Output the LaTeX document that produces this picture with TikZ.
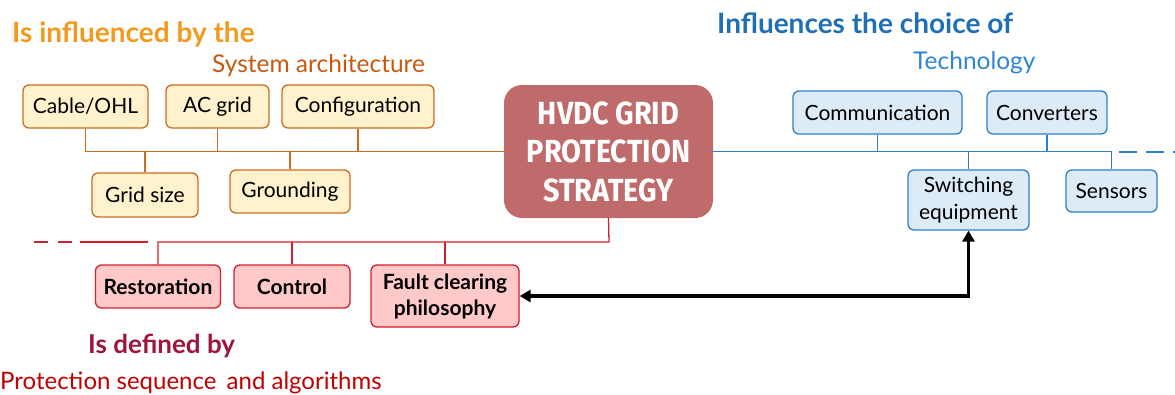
\documentclass[tikz,border=0pt]{standalone}
\usepackage{fontspec}
\setmainfont{Lato}
\newfontfamily\condfont[FakeStretch=0.90]{Fira Sans}
\usetikzlibrary{arrows.meta}
\definecolor{otitle}{HTML}{F39A1E}
\definecolor{osub}{HTML}{C55A11}
\definecolor{oline}{HTML}{CC6B22}
\definecolor{ofill}{HTML}{FFF2CC}
\definecolor{hvfill}{HTML}{C06B6B}
\definecolor{btitle}{HTML}{1E6FB5}
\definecolor{bsub}{HTML}{2E86D4}
\definecolor{bline}{HTML}{2E80CC}
\definecolor{bfill}{HTML}{DDEBF7}
\definecolor{rline}{HTML}{D0202A}
\definecolor{rfill}{HTML}{FFC9C9}
\definecolor{rtitle}{HTML}{A0143C}
\definecolor{rsub}{HTML}{C00000}
\tikzset{
  obox/.style={draw=oline, fill=ofill, line width=1.3pt, rounded corners=6pt, inner sep=0pt, align=center, font=\fontsize{21}{26}\selectfont},
  bbox/.style={draw=bline, fill=bfill, line width=1.3pt, rounded corners=6pt, inner sep=0pt, align=center, font=\fontsize{21}{26.5}\selectfont},
  rbox/.style={draw=rline, fill=rfill, line width=1.3pt, rounded corners=6pt, inner sep=0pt, align=center, font=\bfseries\fontsize{21}{26}\selectfont},
  oconn/.style={draw=oline, line width=1.3pt},
  bconn/.style={draw=bline, line width=1.3pt},
  rconn/.style={draw=rline, line width=1.3pt},
  ttl/.style={inner sep=0pt, anchor=base west},
}
\begin{document}
\begin{tikzpicture}[x=1pt,y=-1pt]
\useasboundingbox (0,0) rectangle (1175,394);
% titles
\node[ttl, text=otitle, font=\bfseries\fontsize{28}{30}\selectfont] (t1) at (12,42) {Is influenced by the};
\node[ttl, text=osub, font=\fontsize{24.5}{26}\selectfont] (t2) at (212,72) {System architecture};
\node[ttl, text=btitle, font=\bfseries\fontsize{28}{30}\selectfont] (t3) at (717,33) {Influences the choice of};
\node[ttl, text=bsub, font=\fontsize{24.5}{26}\selectfont] (t4) at (913,69) {Technology};
\node[ttl, text=rtitle, font=\bfseries\fontsize{26}{30}\selectfont] (t5) at (88,353) {Is defined by};
\node[ttl, text=rsub, font=\fontsize{24}{26}\selectfont] (t6) at (0,389) {Protection sequence\hspace{4pt} and algorithms};
% central
\node[fill=hvfill, rounded corners=18pt, minimum width=209pt, minimum height=133pt, inner sep=0pt, align=center, text=white, font=\condfont\bfseries\fontsize{32}{38.5}\selectfont] (hv) at (608.5,151.5) {HVDC GRID\\PROTECTION\\STRATEGY};
% orange boxes
\node[obox, minimum width=125pt, minimum height=43pt] (cab) at (85.5,106.5) {Cable/OHL};
\node[obox, minimum width=103pt, minimum height=43pt] (acg) at (217.5,106.5) {AC grid};
\node[obox, minimum width=152pt, minimum height=43pt] (cfg) at (358,106.5) {Configuration};
\node[obox, minimum width=106pt, minimum height=44pt] (gsz) at (145,195) {Grid size};
\node[obox, minimum width=120pt, minimum height=43pt] (grd) at (290,191.5) {Grounding};
% blue boxes
\node[bbox, minimum width=169pt, minimum height=43pt] (com) at (877.5,112.5) {Communication};
\node[bbox, minimum width=120pt, minimum height=43pt] (cnv) at (1047,112.5) {Converters};
\node[bbox, minimum width=121pt, minimum height=60pt] (swe) at (968.5,200) {Switching\\equipment};
\node[bbox, minimum width=91pt, minimum height=42pt] (sen) at (1111.5,191) {Sensors};
% red boxes
\node[rbox, minimum width=125pt, minimum height=43pt] (res) at (158,286.5) {Restoration};
\node[rbox, minimum width=116pt, minimum height=43pt] (ctl) at (292,286.5) {Control};
\node[rbox, minimum width=148pt, minimum height=62pt] (flt) at (445,296) {Fault clearing\\philosophy};
% orange connectors
\draw[oconn] (cab.south) |- (hv.west);
\draw[oconn] (acg.south) -- (acg.south |- hv.west);
\draw[oconn] (cfg.south) -- (cfg.south |- hv.west);
\draw[oconn] (gsz.north) -- (gsz.north |- hv.west);
\draw[oconn] (grd.north) -- (grd.north |- hv.west);
% blue connectors
\draw[bconn] (hv.east) -| (sen.north);
\draw[bconn] (com.south) -- (com.south |- hv.east);
\draw[bconn] (cnv.south) -- (cnv.south |- hv.east);
\draw[bconn] (swe.north) -- (swe.north |- hv.east);
\coordinate (bd1) at (1119,152);
\coordinate (bd2) at (1175,152);
\draw[bconn, dash pattern=on 18pt off 9pt] (bd1) -- (bd2);
% red connectors
\coordinate (rb) at (609,242);
\draw[rconn] (hv.south) -- (rb) -| (res.north);
\draw[rconn] (ctl.north) -- (ctl.north |- rb);
\draw[rconn] (flt.north) -- (flt.north |- rb);
\coordinate (rd1) at (34,242);
\coordinate (rd2) at (148,242);
\draw[rconn, dash pattern=on 14pt off 10pt on 14pt off 8pt on 68pt] (rd1) -- (rd2);
% black arrow
\draw[line width=3.5pt, {Triangle[length=11pt,width=12pt]}-{Triangle[length=11pt,width=12pt]}] (swe.south) |- (flt.east);
\end{tikzpicture}
\end{document}
